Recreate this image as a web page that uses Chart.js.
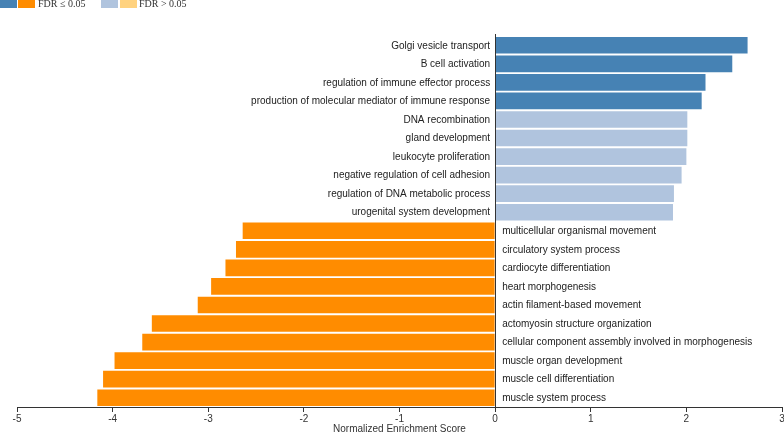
<!DOCTYPE html>
<html>
<head>
<meta charset="utf-8">
<script src="https://cdn.jsdelivr.net/npm/chart.js@4/dist/chart.umd.min.js"></script>
<style>
  html, body { margin: 0; padding: 0; background: #fff; }
  #wrap { position: relative; width: 784px; height: 432px; overflow: hidden; }
  canvas { position: absolute; left: 0; top: 0; }
  .lg { position: absolute; top: -8px; width: 17px; height: 16px; }
  .lt { position: absolute; top: -2px; font-family: "Liberation Serif", "Times New Roman", serif; font-size: 10px; color: #333; line-height: 12px; white-space: nowrap; }
</style>
</head>
<body>
<div id="wrap">
  <canvas id="c" width="784" height="432"></canvas>
  <div class="lg" style="left:0px;background:#4682B4"></div>
  <div class="lg" style="left:18px;background:#FF8C00"></div>
  <div class="lt" style="left:38px">FDR ≤ 0.05</div>
  <div class="lg" style="left:101px;background:#B0C4DE"></div>
  <div class="lg" style="left:120px;background:#FFD27F"></div>
  <div class="lt" style="left:139px">FDR &gt; 0.05</div>
</div>
<script>
const categories = [
  "Golgi vesicle transport",
  "B cell activation",
  "regulation of immune effector process",
  "production of molecular mediator of immune response",
  "DNA recombination",
  "gland development",
  "leukocyte proliferation",
  "negative regulation of cell adhesion",
  "regulation of DNA metabolic process",
  "urogenital system development",
  "multicellular organismal movement",
  "circulatory system process",
  "cardiocyte differentiation",
  "heart morphogenesis",
  "actin filament-based movement",
  "actomyosin structure organization",
  "cellular component assembly involved in morphogenesis",
  "muscle organ development",
  "muscle cell differentiation",
  "muscle system process"
];
const nesValues = [2.64, 2.48, 2.20, 2.16, 2.01, 2.01, 2.00, 1.95, 1.87, 1.86,
  -2.64, -2.71, -2.82, -2.97, -3.11, -3.59, -3.69, -3.98, -4.10, -4.16];
const fdrSignificant = [true, true, true, true, false, false, false, false, false, false,
  true, true, true, true, true, true, true, true, true, true];
const xTicks = [-5, -4, -3, -2, -1, 0, 1, 2, 3];

const colorFor = (v, sig) => v >= 0 ? (sig ? '#4682B4' : '#B0C4DE') : (sig ? '#FF8C00' : '#FFD27F');
const barColors = nesValues.map((v, i) => colorFor(v, fdrSignificant[i]));

const labelPlugin = {
  id: 'termLabels',
  afterDatasetsDraw(chart) {
    const ctx = chart.ctx;
    const xs = chart.scales.x, ys = chart.scales.y;
    const x0 = xs.getPixelForValue(0);
    ctx.save();
    ctx.strokeStyle = '#333';
    ctx.lineWidth = 1;
    ctx.beginPath();
    ctx.moveTo(Math.round(x0) + 0.5, chart.chartArea.top - 2);
    ctx.lineTo(Math.round(x0) + 0.5, chart.chartArea.bottom);
    ctx.stroke();
    ctx.font = '10px "Liberation Sans", Arial, sans-serif';
    ctx.fillStyle = '#222';
    ctx.textBaseline = 'middle';
    categories.forEach((c, i) => {
      const y = ys.getPixelForValue(i);
      if (nesValues[i] >= 0) {
        ctx.textAlign = 'right';
        ctx.fillText(c, x0 - 5, y + 0.5);
      } else {
        ctx.textAlign = 'left';
        ctx.fillText(c, x0 + 7, y + 0.5);
      }
    });
    ctx.restore();
  }
};

new Chart(document.getElementById('c'), {
  type: 'bar',
  data: {
    labels: categories,
    datasets: [{
      data: nesValues,
      backgroundColor: barColors,
      borderWidth: 0,
      barPercentage: 0.9,
      categoryPercentage: 1.0
    }]
  },
  options: {
    indexAxis: 'y',
    responsive: false,
    animation: false,
    layout: { padding: { left: 17, right: 0, top: 36, bottom: 0 } },
    plugins: { legend: { display: false }, tooltip: { enabled: false } },
    scales: {
      y: { display: false },
      x: {
        type: 'linear',
        min: -5, max: 3,
        afterBuildTicks(scale) { scale.ticks = xTicks.map(v => ({ value: v })); },
        afterFit(scale) { scale.height = 25; scale.paddingRight = 2; },
        border: { display: true, color: '#333', width: 1 },
        grid: { drawOnChartArea: false, drawTicks: true, tickLength: 5, color: '#333' },
        ticks: {
          padding: 2,
          color: '#333',
          maxRotation: 0,
          font: { family: '"Liberation Sans", Arial, sans-serif', size: 10, lineHeight: 1 }
        },
        title: {
          display: true,
          text: 'Normalized Enrichment Score',
          color: '#333',
          padding: { top: 0, bottom: -2 },
          font: { family: '"Liberation Sans", Arial, sans-serif', size: 10, lineHeight: 1 }
        }
      }
    }
  },
  plugins: [labelPlugin]
});
</script>
</body>
</html>
